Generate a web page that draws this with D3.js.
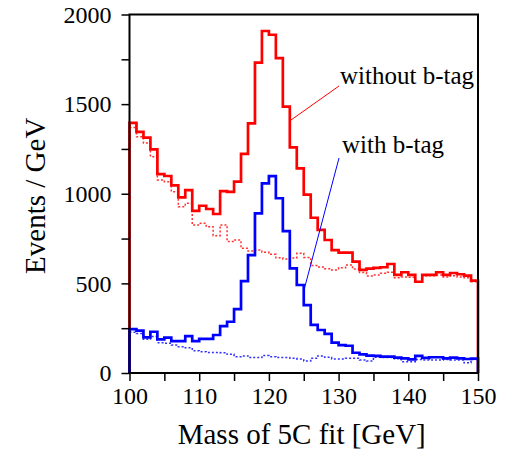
<!DOCTYPE html>
<html>
<head>
<meta charset="utf-8">
<script src="https://cdn.jsdelivr.net/npm/d3@7"></script>
<style>
  html, body { margin: 0; padding: 0; background: #fff; }
  svg { display: block; }
  text { font-family: "Liberation Serif", "Times New Roman", serif; }
</style>
</head>
<body>
<svg id="chart" width="507" height="454"></svg>
<script>
// ---- data (bins of 1 GeV, lower edges 100..149) ----
const binEdges = d3.range(100, 151, 1);
const redSolid = [1395,1345,1313,1248,1110,1099,1047,980,1020,905,
                  933,915,887,1015,1010,1068,1222,1393,1731,1908,
                  1887,1757,1486,1259,1142,995,866,798,742,686,
                  671,671,621,575,582,586,590,608,547,562,
                  547,509,547,547,562,547,558,551,543,515];
const redDotted = [1370,1318,1283,1207,1077,1067,1011,928,947,826,
                   835,816,766,826,733,742,696,681,686,673,
                   662,643,636,642,668,645,600,592,582,575,
                   587,603,580,560,541,547,556,562,532,536,
                   534,506,541,543,547,536,543,536,532,509];
const blueSolid = [245,236,199,230,188,197,178,178,206,178,
                   190,190,212,262,286,356,513,658,891,1058,
                   1098,975,792,584,491,379,268,240,218,169,
                   156,152,113,104,97,95,91,91,86,82,
                   76,95,84,88,88,82,86,82,78,80];
const blueDotted = [228,221,188,203,169,166,156,147,141,124,
                    119,115,115,113,104,91,95,86,86,97,
                    91,86,86,82,78,67,82,95,88,78,
                    78,82,82,73,67,88,87,87,80,63,
                    63,76,73,72,73,76,73,73,57,76];
const xTicks = [100,105,110,115,120,125,130,135,140,145,150];
const xLabels = [100,110,120,130,140,150];
const yTicks = [0,250,500,750,1000,1250,1500,1750,2000];
const yLabels = [0,500,1000,1500,2000];

// ---- layout ----
const L = 129.5, R = 478, T = 14.5, B = 373;
const svg = d3.select("#chart");
const x = d3.scaleLinear().domain([100,150]).range([L,R]);
const y = d3.scaleLinear().domain([0,2000]).range([B,T]);

function stepPoints(vals, closed) {
  const pts = [];
  if (closed) pts.push([x(binEdges[0]), y(0)]);
  vals.forEach((v,i) => {
    pts.push([x(binEdges[i]), y(v)]);
    pts.push([x(binEdges[i+1]), y(v)]);
  });
  if (closed) pts.push([x(binEdges[vals.length]), y(0)]);
  return pts;
}
const line = d3.line();

const g = svg.append("g");
g.append("path").attr("d", line(stepPoints(redDotted,false)))
  .attr("fill","none").attr("stroke","#ff3030").attr("stroke-width",1.5)
  .attr("stroke-dasharray","2,2");
g.append("path").attr("d", line(stepPoints(blueDotted,false)))
  .attr("fill","none").attr("stroke","#3030ff").attr("stroke-width",1.5)
  .attr("stroke-dasharray","2,2");
g.append("path").attr("d", line(stepPoints(redSolid,true)))
  .attr("fill","none").attr("stroke","#ff0000").attr("stroke-width",2.7);
g.append("path").attr("d", line(stepPoints(blueSolid,true)))
  .attr("fill","none").attr("stroke","#0000ff").attr("stroke-width",2.7);

// frame
svg.append("rect").attr("x",L).attr("y",T).attr("width",R-L).attr("height",B-T)
  .attr("fill","none").attr("stroke","#000").attr("stroke-width",2);

// axes
const xAxis = d3.axisBottom(x).tickValues(xTicks).tickSize(8).tickPadding(6)
  .tickFormat(d => xLabels.includes(d) ? d : "");
const yAxis = d3.axisLeft(y).tickValues(yTicks).tickSize(8).tickPadding(10)
  .tickFormat(d => yLabels.includes(d) ? d : "");
const gx = svg.append("g").attr("transform",`translate(0,${B})`).call(xAxis);
const gy = svg.append("g").attr("transform",`translate(${L},0)`).call(yAxis);
[gx, gy].forEach(a => {
  a.select(".domain").remove();
  a.selectAll(".tick line").attr("stroke","#000").attr("stroke-width",1.5);
  a.selectAll(".tick text").attr("font-family","Liberation Serif").attr("font-size",24).attr("fill","#000");
});

// axis titles
svg.append("text").attr("x",(L+R)/2-2).attr("y",444).attr("text-anchor","middle")
  .attr("font-size",29).text("Mass of 5C fit [GeV]");
svg.append("text").attr("transform",`translate(45,${(T+B)/2+2}) rotate(-90)`)
  .attr("text-anchor","middle").attr("font-size",29).text("Events / GeV");

// annotations
svg.append("text").attr("x",340).attr("y",84).attr("font-size",25).text("without b-tag");
svg.append("text").attr("x",342).attr("y",153).attr("font-size",25).text("with b-tag");
svg.append("line").attr("x1",339).attr("y1",86).attr("x2",291).attr("y2",120)
  .attr("stroke","#ff0000").attr("stroke-width",1);
svg.append("line").attr("x1",339).attr("y1",158).attr("x2",304).attr("y2",290)
  .attr("stroke","#0000ff").attr("stroke-width",1);
</script>
</body>
</html>
